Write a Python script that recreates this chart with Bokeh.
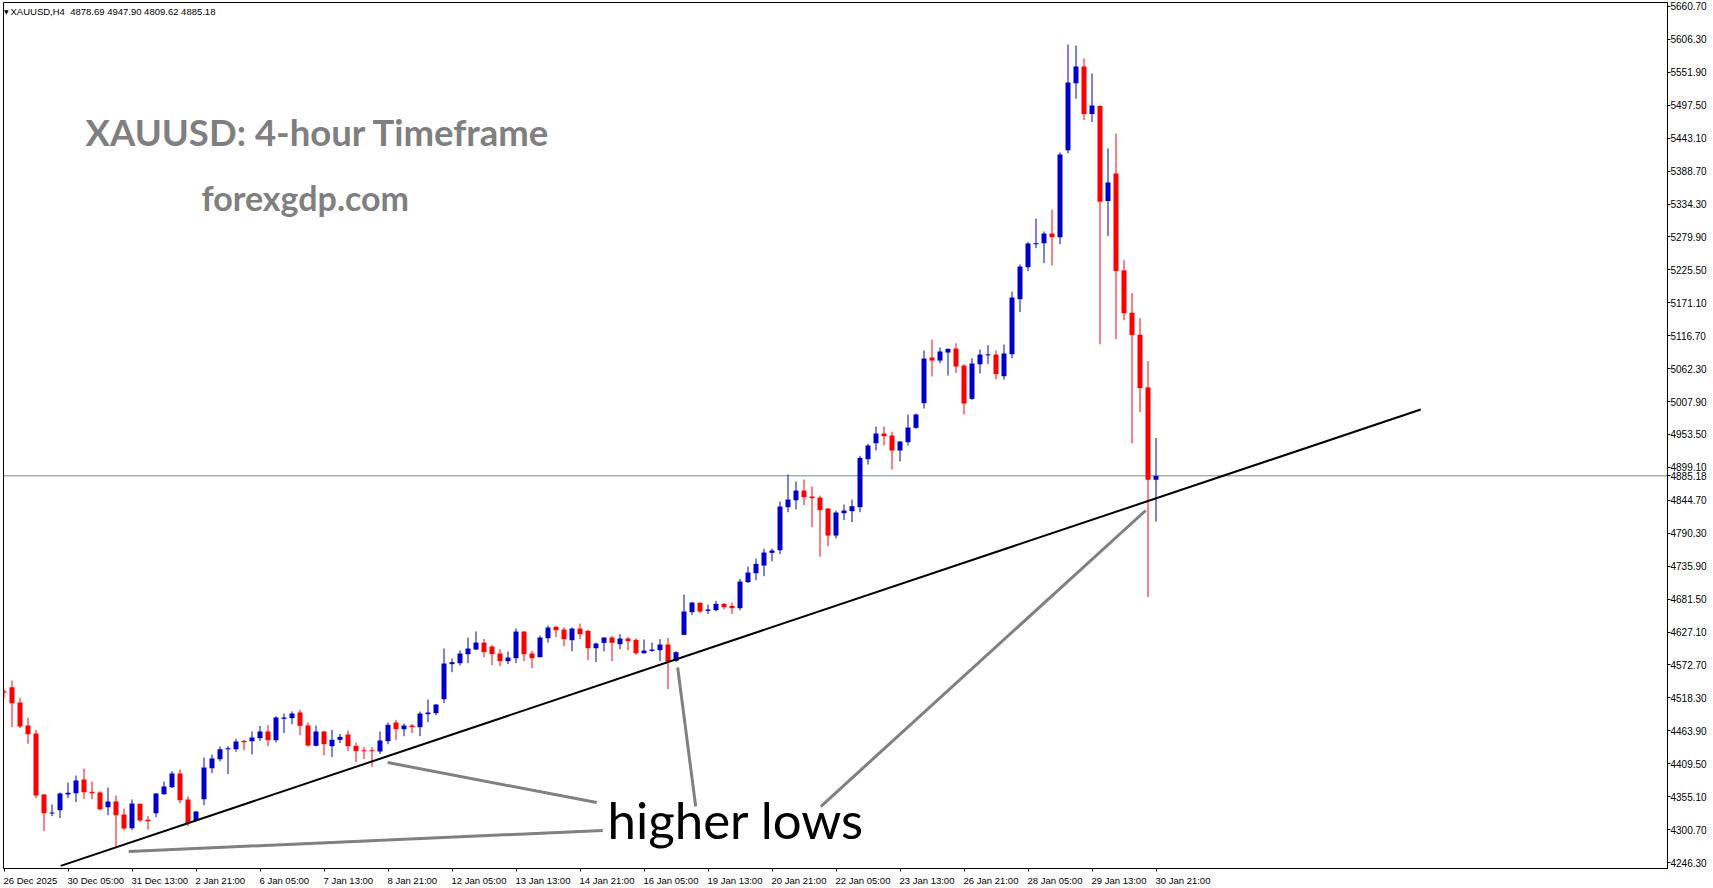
from bokeh.plotting import figure
from bokeh.models import Range1d, FixedTicker, Span, ColumnDataSource, CustomJSTickFormatter
from bokeh.core.properties import value
from bokeh.embed import file_html
from bokeh.resources import INLINE

# ---------------- data ----------------
symbol = "XAUUSD,H4"
opens = [4529.4, 4536.0, 4510.7, 4472.7, 4459.5, 4358.7, 4327.3, 4332.8, 4358.7, 4360.9,
         4383.4, 4363.0, 4362.0, 4337.7, 4347.1, 4325.6, 4303.0, 4343.2, 4316.8, 4327.8,
         4359.2, 4370.8, 4393.4, 4350.4, 4315.2, 4350.9, 4402.2, 4417.0, 4433.6, 4433.6,
         4447.3, 4446.8, 4451.7, 4462.8, 4448.4, 4483.7, 4484.8, 4494.2, 4472.7, 4439.1,
         4462.8, 4438.5, 4449.0, 4457.8, 4439.1, 4431.4, 4431.4, 4429.7, 4446.8, 4477.6,
         4466.5, 4472.6, 4469.9, 4491.3, 4493.0, 4516.1, 4574.0, 4575.6, 4590.5, 4598.2,
         4609.7, 4603.1, 4591.6, 4578.9, 4583.9, 4627.9, 4591.6, 4585.5, 4616.9, 4635.6,
         4631.2, 4613.6, 4632.9, 4629.0, 4600.4, 4609.2, 4618.0, 4607.0, 4616.4, 4614.2,
         4592.1, 4596.0, 4597.1, 4606.4, 4579.5, 4622.4, 4659.9, 4675.3, 4662.0, 4663.2,
         4673.6, 4670.3, 4666.5, 4709.4, 4724.3, 4737.0, 4757.9, 4762.3, 4833.4, 4844.9,
         4860.9, 4851.0, 4849.3, 4831.2, 4786.5, 4823.5, 4826.8, 4833.4, 4912.7, 4939.1,
         4955.1, 4951.8, 4927.0, 4940.8, 4964.5, 5005.2, 5080.7, 5075.7, 5088.9, 5095.5,
         5067.4, 5012.4, 5069.6, 5084.5, 5085.6, 5049.8, 5086.2, 5177.1, 5229.9, 5267.9,
         5269.6, 5285.6, 5279.5, 5423.3, 5534.0, 5561.5, 5483.0, 5496.3, 5339.2, 5384.7,
         5224.8, 5154.8, 5118.4, 5031.3, 4878.69]
highs = [4533.3, 4547.0, 4518.4, 4485.3, 4465.5, 4359.5, 4342.1, 4362.0, 4378.5, 4390.0,
         4401.6, 4380.1, 4364.2, 4370.2, 4357.0, 4335.5, 4350.4, 4343.8, 4322.9, 4361.0,
         4380.1, 4397.2, 4400.0, 4355.4, 4331.2, 4419.8, 4424.7, 4438.0, 4438.5, 4450.6,
         4447.9, 4462.8, 4472.1, 4473.2, 4488.0, 4492.5, 4495.8, 4498.6, 4477.6, 4472.7,
         4463.5, 4465.5, 4458.9, 4464.4, 4444.6, 4437.4, 4436.9, 4462.8, 4477.6, 4482.0,
         4475.9, 4475.4, 4495.7, 4515.6, 4508.4, 4599.8, 4583.3, 4596.5, 4618.0, 4627.9,
         4615.8, 4605.9, 4598.7, 4594.9, 4632.9, 4628.5, 4596.0, 4621.3, 4637.8, 4637.8,
         4635.0, 4634.5, 4641.1, 4630.7, 4609.7, 4618.5, 4620.8, 4623.5, 4619.1, 4616.9,
         4614.7, 4609.7, 4615.3, 4617.5, 4595.4, 4689.1, 4676.9, 4676.4, 4672.5, 4678.6,
         4675.3, 4675.8, 4714.9, 4735.3, 4748.5, 4764.5, 4765.1, 4842.7, 4887.3, 4875.8,
         4879.1, 4867.5, 4852.6, 4832.0, 4827.3, 4837.8, 4846.0, 4918.2, 4938.0, 4966.6,
         4966.6, 4958.4, 4942.5, 4986.5, 4988.1, 5092.2, 5110.4, 5097.2, 5095.5, 5104.3,
         5069.6, 5079.6, 5093.9, 5101.0, 5092.2, 5102.1, 5189.7, 5234.4, 5271.3, 5310.3,
         5288.9, 5325.2, 5419.4, 5597.9, 5596.2, 5574.7, 5549.9, 5497.5, 5426.3, 5450.8,
         5241.3, 5187.3, 5145.7, 5074.6, 4947.90]
lows = [4518.4, 4469.9, 4468.3, 4442.4, 4352.6, 4298.1, 4322.9, 4319.6, 4352.6, 4346.0,
        4351.5, 4350.9, 4332.2, 4324.5, 4271.6, 4299.7, 4299.7, 4313.5, 4300.8, 4321.2,
        4358.5, 4369.1, 4344.3, 4306.3, 4314.0, 4341.0, 4393.9, 4413.7, 4392.3, 4429.2,
        4431.9, 4424.7, 4446.8, 4438.5, 4444.6, 4460.0, 4474.9, 4456.7, 4438.0, 4438.0,
        4423.1, 4420.3, 4443.5, 4430.3, 4412.1, 4417.0, 4404.4, 4425.8, 4441.8, 4449.0,
        4455.0, 4460.0, 4455.0, 4478.1, 4489.7, 4509.5, 4560.7, 4571.8, 4575.6, 4597.1,
        4585.5, 4572.3, 4570.6, 4574.0, 4575.6, 4578.9, 4567.3, 4585.0, 4609.7, 4618.6,
        4603.7, 4595.4, 4615.3, 4580.6, 4577.3, 4595.4, 4578.9, 4598.7, 4597.1, 4589.4,
        4591.5, 4594.3, 4578.9, 4532.6, 4577.8, 4621.9, 4655.5, 4658.2, 4656.6, 4661.5,
        4664.8, 4656.6, 4663.2, 4708.5, 4712.7, 4719.4, 4744.1, 4755.7, 4825.1, 4829.5,
        4836.7, 4800.3, 4751.8, 4768.9, 4781.6, 4811.9, 4808.6, 4825.1, 4903.9, 4927.0,
        4935.3, 4895.6, 4908.8, 4935.3, 4962.8, 4996.4, 5049.3, 5071.3, 5050.9, 5055.3,
        4986.5, 5010.7, 5054.2, 5070.2, 5044.3, 5044.3, 5079.6, 5155.6, 5223.3, 5261.3,
        5236.5, 5232.7, 5267.9, 5418.3, 5508.0, 5473.0, 5469.5, 5102.5, 5281.2, 5111.0,
        5142.3, 4939.1, 4990.4, 4684.8, 4809.62]
closes = [4527.2, 4509.6, 4471.0, 4458.3, 4357.0, 4327.8, 4328.9, 4360.3, 4361.4, 4381.8,
          4362.5, 4360.9, 4334.4, 4347.1, 4324.5, 4302.5, 4343.8, 4315.7, 4314.6, 4360.3,
          4371.9, 4393.4, 4349.3, 4311.3, 4330.6, 4403.3, 4418.1, 4433.6, 4434.7, 4446.2,
          4445.1, 4452.8, 4462.8, 4448.4, 4485.9, 4485.9, 4492.5, 4472.1, 4439.6, 4462.8,
          4441.8, 4449.0, 4453.9, 4438.5, 4430.3, 4430.3, 4430.3, 4447.9, 4473.8, 4466.6,
          4472.6, 4469.9, 4492.4, 4494.1, 4507.3, 4575.1, 4577.3, 4591.6, 4599.8, 4609.7,
          4593.8, 4590.5, 4578.9, 4585.0, 4627.9, 4590.5, 4583.9, 4618.0, 4634.5, 4630.1,
          4615.3, 4632.9, 4623.5, 4600.4, 4608.1, 4618.0, 4609.2, 4616.4, 4612.0, 4592.1,
          4596.5, 4598.2, 4606.4, 4578.4, 4593.8, 4661.0, 4675.8, 4661.0, 4664.3, 4673.6,
          4668.1, 4666.5, 4710.5, 4725.4, 4739.7, 4758.5, 4761.8, 4834.5, 4846.0, 4860.9,
          4849.9, 4848.2, 4828.4, 4786.5, 4824.6, 4827.9, 4835.0, 4914.9, 4935.3, 4955.1,
          4950.7, 4927.0, 4941.9, 4965.0, 4986.5, 5079.0, 5075.7, 5090.6, 5095.0, 5065.8,
          5004.7, 5070.7, 5085.6, 5085.6, 5053.1, 5087.3, 5179.8, 5231.0, 5269.0, 5269.5,
          5285.6, 5279.5, 5416.1, 5535.1, 5561.5, 5483.0, 5497.0, 5338.1, 5369.9, 5223.7,
          5153.7, 5117.8, 5030.2, 4878.7, 4885.18]

x_tick_bars = [0, 8, 16, 24, 32, 40, 48, 56, 64, 72, 80, 88, 96, 104, 112, 120, 128, 136, 144]
x_tick_labels = ["26 Dec 2025", "30 Dec 05:00", "31 Dec 13:00", "2 Jan 21:00", "6 Jan 05:00",
                 "7 Jan 13:00", "8 Jan 21:00", "12 Jan 05:00", "13 Jan 13:00", "14 Jan 21:00",
                 "16 Jan 05:00", "19 Jan 13:00", "20 Jan 21:00", "22 Jan 05:00", "23 Jan 13:00",
                 "26 Jan 21:00", "28 Jan 05:00", "29 Jan 13:00", "30 Jan 21:00"]
price_ticks = [5660.70, 5606.30, 5551.90, 5497.50, 5443.10, 5388.70, 5334.30, 5279.90, 5225.50,
               5171.10, 5116.70, 5062.30, 5007.90, 4953.50, 4899.10, 4844.70, 4790.30, 4735.90,
               4681.50, 4627.10, 4572.70, 4518.30, 4463.90, 4409.50, 4355.10, 4300.70, 4246.30]

# trend line and pointer lines (bar index, price)
trend_bars = [7.09, 177.09]
trend_prices = [4240.7, 4994.8]
pointer_bars = [[15.59, 74.84], [47.96, 74.09], [84.21, 86.46], [142.71, 102.09]]
pointer_prices = [[4264.5, 4299.2], [4411.5, 4345.4], [4568.5, 4338.8], [4827.9, 4338.8]]

title_text = "XAUUSD: 4-hour Timeframe"
site_text = "forexgdp.com"
note_text = "higher lows"

# ---------------- layout ----------------
FRAME_LEFT, FRAME_TOP = 3, 2
FRAME_W, FRAME_H = 1664, 866
PX_BAR = 8.0
PPP = 1.6523                     # price per pixel
X0 = (FRAME_LEFT - 3.5) / PX_BAR  # bar index at the frame's left edge


def price_at(py):                # page y -> price
    return 4246.3 + (862 - py) * PPP


def bx(px):                      # page x -> bar index
    return X0 + (px - FRAME_LEFT) / PX_BAR


X1 = X0 + FRAME_W / PX_BAR
Y_TOP = price_at(FRAME_TOP)
Y_BOT = price_at(FRAME_TOP + FRAME_H)

BULL = "#0000CD"
BEAR = "#FF0000"

n = len(opens)
bars = list(range(n))
colors = [BULL if c >= o else BEAR for o, c in zip(opens, closes)]
tops, bots = [], []
for o, c in zip(opens, closes):
    hi, lo = max(o, c), min(o, c)
    if hi - lo < PPP:
        m = (hi + lo) / 2
        hi, lo = m + PPP / 2, m - PPP / 2
    tops.append(hi)
    bots.append(lo)

src = ColumnDataSource(dict(x=bars, high=highs, low=lows, top=tops, bottom=bots, color=colors))

p = figure(frame_width=FRAME_W, frame_height=FRAME_H,
           x_range=Range1d(X0, X1), y_range=Range1d(Y_BOT, Y_TOP),
           y_axis_location="right", output_backend="svg", toolbar_location=None,
           min_border_left=FRAME_LEFT, min_border_right=0, min_border_top=FRAME_TOP,
           min_border_bottom=0,
           background_fill_color="white", border_fill_color="white",
           outline_line_color="black", outline_line_width=1)
p.xgrid.visible = False
p.ygrid.visible = False

# current price line
p.add_layout(Span(location=closes[-1], dimension="width", line_color="#778899",
                  line_width=1, level="underlay"))

# candles
p.segment(x0="x", y0="low", x1="x", y1="high", line_color="color", line_width=1, source=src)
p.vbar(x="x", width=5 / PX_BAR, top="top", bottom="bottom", fill_color="color",
       line_color=None, source=src)

# trend line + pointers
p.line(trend_bars, trend_prices, line_color="black", line_width=2)
p.multi_line(xs=pointer_bars, ys=pointer_prices, line_color="#808080", line_width=3)

# ---- y axis (right), with the current price as an extra tick
last_close = closes[-1]
y_ticks = price_ticks + [last_close]
p.yaxis.ticker = FixedTicker(ticks=y_ticks)
p.yaxis.formatter = CustomJSTickFormatter(code="return tick.toFixed(2);")
p.yaxis.major_label_text_font = "Liberation Sans"
p.yaxis.major_label_text_font_size = "10px"
p.yaxis.major_label_text_color = "black"
p.yaxis.major_tick_out = 3
p.yaxis.major_tick_in = 0
p.yaxis.minor_tick_line_color = None
p.yaxis.major_label_standoff = 0
p.yaxis.axis_line_color = "black"

# ---- x axis (labels left-aligned at their tick)
XFS = 9.5
cw = {" ": 0.278, ":": 0.278, "D": 0.722, "e": 0.556, "c": 0.5, "J": 0.5, "a": 0.556, "n": 0.556}
centers, overrides = [], {}
for b, lab in zip(x_tick_bars, x_tick_labels):
    w = sum(cw.get(ch, 0.556) for ch in lab) * XFS
    tick_px = FRAME_LEFT + (b - X0) * PX_BAR
    left_px = max(tick_px - 0.5, 1)
    c = round(bx(left_px + w / 2), 4)
    centers.append(c)
    overrides[c] = lab
p.xaxis.ticker = FixedTicker(ticks=centers, minor_ticks=x_tick_bars)
p.xaxis.major_label_overrides = overrides
p.xaxis.major_label_text_font = "Liberation Sans"
p.xaxis.major_label_text_font_size = f"{XFS}px"
p.xaxis.major_label_text_color = "black"
p.xaxis.major_tick_out = 0
p.xaxis.major_tick_in = 0
p.xaxis.minor_tick_out = 3
p.xaxis.minor_tick_in = 0
p.xaxis.minor_tick_line_color = "black"
p.xaxis.major_label_standoff = 3
p.xaxis.axis_line_color = "black"

# ---- texts (glyphs inside the frame); Bokeh draws "alphabetic" text ~0.44em low
BASE_FIX = 0.44
header = (symbol + "\u00a0\u00a0" + " ".join(f"{v:.2f}" for v in
          (opens[-1], highs[-1], lows[-1], closes[-1])))
p.text(x=[bx(3.5)], y=[price_at(11)], text=["\u25bc"], text_font=value("DejaVu Sans"),
       text_font_size="6px", text_baseline="middle", text_align="left", text_color="black")
p.text(x=[bx(10)], y=[price_at(11)], text=[header], text_font=value("Liberation Sans"),
       text_font_size="9.5px", text_baseline="middle", text_align="left", text_color="black")
p.text(x=[bx(85)], y=[price_at(148 - BASE_FIX * 36.5)], text=[title_text],
       text_font=value("Lato"), text_font_size="36.5px", text_font_style="bold",
       text_color="#7f7f7f", text_baseline="alphabetic", text_align="left")
p.text(x=[bx(201)], y=[price_at(212 - BASE_FIX * 34)], text=[site_text],
       text_font=value("Lato"), text_font_size="34px", text_font_style="bold",
       text_color="#7f7f7f", text_baseline="alphabetic", text_align="left")
p.text(x=[bx(607)], y=[price_at(841 - BASE_FIX * 51)], text=[note_text],
       text_font=value("Lato"), text_font_size="51px", text_color="black",
       text_baseline="alphabetic", text_align="left")

open("out.html", "w").write(file_html(p, INLINE, title="XAUUSD H4"))
